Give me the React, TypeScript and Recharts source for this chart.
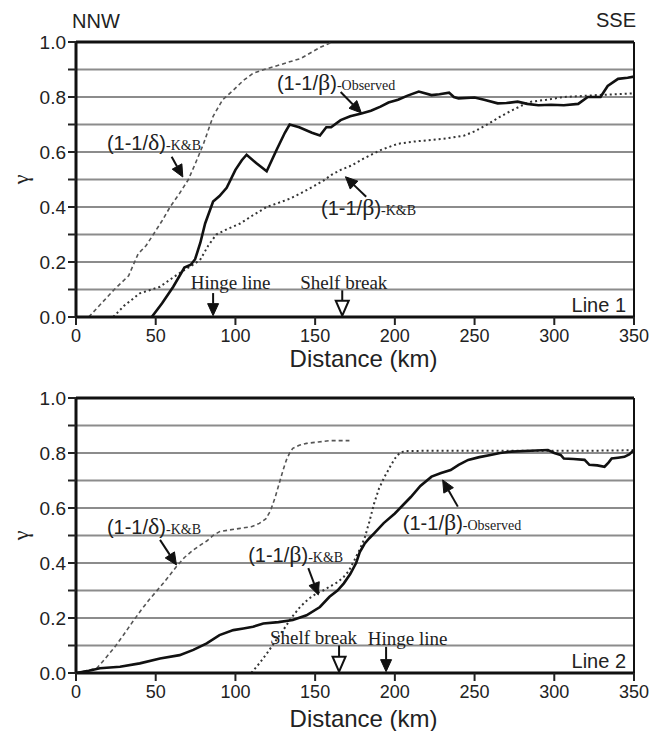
import {
  LineChart,
  Line,
  XAxis,
  YAxis,
  CartesianGrid,
  ReferenceLine,
  ReferenceDot,
} from 'recharts';

const SANS = "'Liberation Sans', Arial, Helvetica, sans-serif";
const SERIF = "'Liberation Serif', 'Times New Roman', serif";

const X_TICKS = [0, 50, 100, 150, 200, 250, 300, 350];
const Y_TICKS = [0, 0.1, 0.2, 0.3, 0.4, 0.5, 0.6, 0.7, 0.8, 0.9, 1.0];

// Line 1 profiles: [distance km, gamma]
const LINE1_DELTA_KB = [
  [8, 0], [16, 0.05], [24, 0.1], [33, 0.15], [39, 0.23], [44, 0.26], [48.5, 0.3],
  [54, 0.35], [59, 0.4], [65, 0.45], [70.5, 0.5], [75, 0.56], [80, 0.63], [86, 0.73],
  [92, 0.79], [98.7, 0.825], [105, 0.86], [111, 0.886], [118, 0.9], [124, 0.91],
  [134, 0.928], [141, 0.94], [147, 0.96], [153, 0.98], [159, 0.995], [161, 1.0],
];
const LINE1_BETA_KB = [
  [23.4, 0], [30, 0.04], [40, 0.086], [52.7, 0.11], [60, 0.14], [65, 0.16], [72, 0.185],
  [77.8, 0.207], [83, 0.26], [88, 0.3], [95, 0.32], [103, 0.34], [111, 0.37], [119.6, 0.4],
  [127, 0.415], [134, 0.43], [141, 0.45], [149, 0.475], [155, 0.495], [160, 0.516],
  [166, 0.535], [172.5, 0.55], [180, 0.575], [191, 0.607], [202, 0.63], [212, 0.638],
  [223, 0.644], [233, 0.65], [243.6, 0.66], [250, 0.675], [258, 0.7], [265, 0.725],
  [273, 0.75], [280, 0.77], [285.5, 0.783], [295, 0.79], [306, 0.8], [316, 0.803],
  [327, 0.807], [338, 0.81], [350, 0.813],
];
const LINE1_OBSERVED = [
  [47.5, 0], [54, 0.05], [61, 0.11], [65, 0.15], [68, 0.18], [72, 0.19], [74.7, 0.21],
  [78, 0.27], [81, 0.34], [86, 0.42], [90, 0.44], [94.5, 0.47], [100, 0.535], [104, 0.57],
  [107, 0.59], [113, 0.56], [119.6, 0.53], [126, 0.61], [131, 0.67], [134, 0.7], [140, 0.69],
  [148, 0.67], [153, 0.66], [157, 0.69], [160, 0.69], [166, 0.716], [172, 0.73], [179, 0.74],
  [185, 0.75], [191, 0.765], [196, 0.78], [202, 0.79], [208, 0.805], [215, 0.82], [223, 0.807],
  [228, 0.81], [234, 0.816], [237, 0.8], [240, 0.795], [250, 0.798], [256, 0.79],
  [264.5, 0.777], [270, 0.778], [277, 0.783], [283, 0.775], [290, 0.77], [298, 0.772],
  [306, 0.77], [315, 0.775], [321, 0.8], [329, 0.8], [333.5, 0.84], [340, 0.866],
  [346, 0.87], [350, 0.874],
];

// Line 2 profiles
const LINE2_DELTA_KB = [
  [0, 0], [13, 0.017], [18, 0.05], [24.5, 0.096], [30, 0.14], [36, 0.19], [41, 0.23],
  [46.4, 0.27], [54.7, 0.326], [63, 0.387], [68, 0.42], [73.5, 0.447], [78, 0.465],
  [82, 0.48], [86, 0.5], [90, 0.514], [96, 0.52], [103, 0.526], [110, 0.532], [115, 0.544],
  [119, 0.56], [122, 0.59], [125, 0.64], [128, 0.7], [130, 0.74], [132, 0.775], [134, 0.8],
  [136, 0.817], [140, 0.828], [144.6, 0.835], [152, 0.84], [159, 0.845], [166, 0.845],
  [171.5, 0.845],
];
const LINE2_BETA_KB = [
  [110, 0], [115, 0.035], [119.6, 0.07], [125, 0.115], [130, 0.156], [135, 0.2],
  [140.5, 0.24], [146, 0.27], [151, 0.29], [155, 0.3], [159, 0.314], [164, 0.33],
  [168, 0.35], [171, 0.37], [174.6, 0.41], [178, 0.45], [181, 0.49], [184, 0.55],
  [187, 0.617], [190, 0.67], [193.6, 0.714], [197, 0.75], [200, 0.78], [203, 0.8],
  [206, 0.807], [220, 0.808], [250, 0.808], [280, 0.808], [300, 0.808], [320, 0.808],
  [350, 0.81],
];
const LINE2_OBSERVED = [
  [0, 0], [8, 0.008], [15, 0.017], [27.6, 0.023], [40, 0.035], [52.7, 0.053], [65, 0.065],
  [73.6, 0.084], [82, 0.108], [90, 0.138], [98.7, 0.156], [105, 0.162], [111, 0.168],
  [117.5, 0.18], [127, 0.185], [136, 0.193], [144.6, 0.21], [153, 0.24], [159, 0.277],
  [164, 0.3], [168, 0.326], [172, 0.36], [175.7, 0.4], [178, 0.44], [181, 0.47], [184, 0.49],
  [187, 0.508], [193, 0.545], [200, 0.58], [205, 0.61], [210, 0.64], [216, 0.68],
  [223, 0.714], [229, 0.727], [235, 0.738], [240, 0.757], [246, 0.775], [253, 0.785],
  [260, 0.793], [266, 0.8], [273, 0.805], [285, 0.808], [296, 0.811], [300, 0.8],
  [304, 0.793], [306, 0.78], [312, 0.778], [319, 0.775], [322, 0.757], [327, 0.755],
  [331.5, 0.75], [334, 0.765], [336, 0.78], [340, 0.783], [344, 0.786], [347, 0.795],
  [350, 0.811],
];

// curve labels (start of text) and their pointer arrows
const LINE1_LABELS = [
  { sym: 'β', tag: '-Observed', x: 126, y: 0.85 },
  { sym: 'δ', tag: '-K&B', x: 19.4, y: 0.633 },
  { sym: 'β', tag: '-K&B', x: 153.7, y: 0.396 },
];
const LINE1_POINTERS = [
  { from: [166, 0.818], to: [179, 0.742] },
  { from: [60, 0.583], to: [67, 0.509] },
  { from: [182, 0.437], to: [169, 0.51] },
];
const LINE1_FEATURES = [
  { name: 'Hinge line', x: 86, textX: 97, textY: 0.127, top: 0.087, hollow: false },
  { name: 'Shelf break', x: 167, textX: 168, textY: 0.127, top: 0.097, hollow: true },
];

const LINE2_LABELS = [
  { sym: 'δ', tag: '-K&B', x: 19.4, y: 0.532 },
  { sym: 'β', tag: '-K&B', x: 108, y: 0.429 },
  { sym: 'β', tag: '-Observed', x: 205, y: 0.545 },
];
const LINE2_POINTERS = [
  { from: [52.7, 0.484], to: [63, 0.393] },
  { from: [145.7, 0.381], to: [152, 0.284] },
  { from: [239.5, 0.605], to: [230, 0.702] },
];
const LINE2_FEATURES = [
  { name: 'Shelf break', x: 165, textX: 149, textY: 0.132, top: 0.1, hollow: true },
  { name: 'Hinge line', x: 194.5, textX: 208, textY: 0.127, top: 0.095, hollow: false },
];

const toPoints = (rows: number[][]) => rows.map(([x, y]) => ({ x, y }));

const ArrowShape = (props: any) => {
  const { x1, y1, x2, y2, hollow } = props;
  const dx = x2 - x1;
  const dy = y2 - y1;
  const len = Math.hypot(dx, dy) || 1;
  const ux = dx / len;
  const uy = dy / len;
  const head = hollow ? 15 : 12;
  const half = hollow ? 6.5 : 5.5;
  const bx = x2 - ux * head;
  const by = y2 - uy * head;
  const px = -uy * half;
  const py = ux * half;
  return (
    <g>
      <line x1={x1} y1={y1} x2={bx} y2={by} stroke="#111" strokeWidth={2} />
      <polygon
        points={`${x2},${y2} ${bx + px},${by + py} ${bx - px},${by - py}`}
        fill={hollow ? '#fff' : '#111'}
        stroke="#111"
        strokeWidth={hollow ? 2 : 1}
        strokeLinejoin="miter"
      />
    </g>
  );
};

const RatioText = ({ cx, cy, sym, tag }: any) => (
  <text x={cx} y={cy} dy="0.36em" fontFamily={SANS} fontSize={20} fill="#222">
    <tspan>(1-1/</tspan>
    <tspan fontFamily={SERIF} fontSize={24}>{sym}</tspan>
    <tspan>)</tspan>
    <tspan fontFamily={SERIF} fontSize={14}>{tag}</tspan>
  </text>
);

const PlainText = ({ cx, cy, text, family, size, anchor, rotate }: any) => (
  <text
    x={cx}
    y={cy}
    dy="0.36em"
    textAnchor={anchor}
    fontFamily={family}
    fontSize={size}
    fill="#222"
    transform={rotate ? `rotate(${rotate} ${cx} ${cy})` : undefined}
  >
    {text}
  </text>
);

const note = (key: string, x: number, y: number, render: (p: any) => any) => (
  <ReferenceDot key={key} x={x} y={y} r={0} ifOverflow="visible" shape={render} />
);

interface PanelProps {
  height: number;
  marginTop: number;
  axisHeight: number;
  deltaKB: number[][];
  betaKB: number[][];
  observed: number[][];
  labels: { sym: string; tag: string; x: number; y: number }[];
  pointers: { from: number[]; to: number[] }[];
  features: { name: string; x: number; textX: number; textY: number; top: number; hollow: boolean }[];
  lineName: string;
  titleY: number;
  compass?: boolean;
}

const Panel = (p: PanelProps) => (
  <LineChart
    width={662}
    height={p.height}
    margin={{ top: p.marginTop, right: 28, bottom: 0, left: 0 }}
  >
    <CartesianGrid vertical={false} stroke="#8c8c8c" strokeWidth={2} />
    <XAxis
      type="number"
      dataKey="x"
      domain={[0, 350]}
      ticks={X_TICKS}
      allowDataOverflow
      height={p.axisHeight}
      tickSize={8}
      tickMargin={4}
      axisLine={{ stroke: '#111', strokeWidth: 3 }}
      tickLine={{ stroke: '#222', strokeWidth: 2 }}
      tick={{ fontSize: 18, fill: '#222', fontFamily: SANS }}
    />
    <YAxis
      type="number"
      domain={[0, 1]}
      ticks={Y_TICKS}
      allowDataOverflow
      width={76}
      tickSize={8}
      tickMargin={2}
      tickFormatter={(v: number) => (Math.round(v * 10) % 2 === 0 ? v.toFixed(1) : '')}
      axisLine={{ stroke: '#111', strokeWidth: 3 }}
      tickLine={{ stroke: '#222', strokeWidth: 2 }}
      tick={{ fontSize: 19, fill: '#222', fontFamily: SANS }}
    />
    {/* frame: top and right edges */}
    <ReferenceLine y={1} stroke="#111" strokeWidth={3} />
    <ReferenceLine x={350} stroke="#111" strokeWidth={2} />

    <Line
      data={toPoints(p.deltaKB)}
      dataKey="y"
      type="linear"
      stroke="#555"
      strokeWidth={1.6}
      strokeDasharray="4 3"
      dot={false}
      isAnimationActive={false}
    />
    <Line
      data={toPoints(p.betaKB)}
      dataKey="y"
      type="linear"
      stroke="#333"
      strokeWidth={2}
      strokeDasharray="2 3"
      dot={false}
      isAnimationActive={false}
    />
    <Line
      data={toPoints(p.observed)}
      dataKey="y"
      type="linear"
      stroke="#111"
      strokeWidth={2.6}
      dot={false}
      isAnimationActive={false}
    />

    {p.pointers.map((a, i) => (
      <ReferenceLine
        key={`ptr-${i}`}
        segment={[
          { x: a.from[0], y: a.from[1] },
          { x: a.to[0], y: a.to[1] },
        ]}
        ifOverflow="visible"
        shape={(sp: any) => <ArrowShape {...sp} hollow={false} />}
      />
    ))}
    {p.features.map((f) => (
      <ReferenceLine
        key={`feat-${f.name}`}
        segment={[
          { x: f.x, y: f.top },
          { x: f.x, y: 0.005 },
        ]}
        ifOverflow="visible"
        shape={(sp: any) => <ArrowShape {...sp} hollow={f.hollow} />}
      />
    ))}
    {p.features.map((f) =>
      note(`ft-${f.name}`, f.textX, f.textY, (dp: any) => (
        <PlainText {...dp} text={f.name} family={SERIF} size={19} anchor="middle" />
      )),
    )}
    {p.labels.map((l, i) =>
      note(`lab-${i}`, l.x, l.y, (dp: any) => <RatioText {...dp} sym={l.sym} tag={l.tag} />),
    )}
    {note('line-name', 345, 0.043, (dp: any) => (
      <PlainText {...dp} text={p.lineName} family={SANS} size={20} anchor="end" />
    ))}
    {note('gamma', -35, 0.5, (dp: any) => (
      <PlainText {...dp} text="γ" family={SERIF} size={22} anchor="middle" rotate={-90} />
    ))}
    {note('x-title', 180.4, p.titleY, (dp: any) => (
      <PlainText {...dp} text="Distance (km)" family={SANS} size={24} anchor="middle" />
    ))}
    {p.compass &&
      note('nnw', -2.5, 1.076, (dp: any) => (
        <PlainText {...dp} text="NNW" family={SANS} size={20} anchor="start" />
      ))}
    {p.compass &&
      note('sse', 351.3, 1.08, (dp: any) => (
        <PlainText {...dp} text="SSE" family={SANS} size={20} anchor="end" />
      ))}
  </LineChart>
);

export default function App() {
  return (
    <div
      style={{
        position: 'absolute',
        left: 0,
        top: 0,
        width: 662,
        height: 731,
        background: '#fff',
      }}
    >
      <Panel
        height={372}
        marginTop={42}
        axisHeight={55}
        deltaKB={LINE1_DELTA_KB}
        betaKB={LINE1_BETA_KB}
        observed={LINE1_OBSERVED}
        labels={LINE1_LABELS}
        pointers={LINE1_POINTERS}
        features={LINE1_FEATURES}
        lineName="Line 1"
        titleY={-0.149}
        compass
      />
      <Panel
        height={359}
        marginTop={26}
        axisHeight={58}
        deltaKB={LINE2_DELTA_KB}
        betaKB={LINE2_BETA_KB}
        observed={LINE2_OBSERVED}
        labels={LINE2_LABELS}
        pointers={LINE2_POINTERS}
        features={LINE2_FEATURES}
        lineName="Line 2"
        titleY={-0.164}
      />
    </div>
  );
}
